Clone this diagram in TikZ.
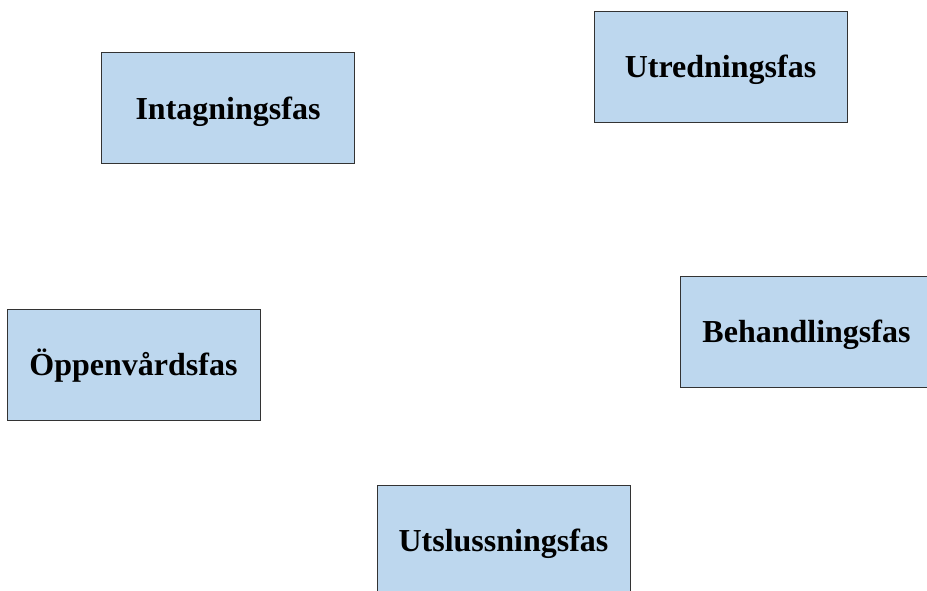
\documentclass[tikz,border=0pt]{standalone}
\usepackage{fontspec}
\setmainfont{Liberation Serif}
\begin{document}
\begin{tikzpicture}[x=1pt,y=-1pt,
  phase/.style={draw=black!80,line width=0.8pt,fill=phasefill,minimum width=253pt,minimum height=111pt,inner sep=0pt,text height=22pt,text depth=0pt,font=\fontsize{32}{36}\selectfont\bfseries}]
\definecolor{phasefill}{HTML}{BDD7EE}
\useasboundingbox[fill=white] (0,0) rectangle (927,590);
\node[phase] (intag) at (228,108) {Intagningsfas};
\node[phase] (utred) at (720.5,66.5) {Utredningsfas};
\node[phase] (oppen) at (133.5,364.5) {Öppenvårdsfas};
\node[phase] (behand) at (806.5,331.5) {Behandlingsfas};
\node[phase] (utsl) at (503.5,540.5) {Utslussningsfas};
\end{tikzpicture}
\end{document}
